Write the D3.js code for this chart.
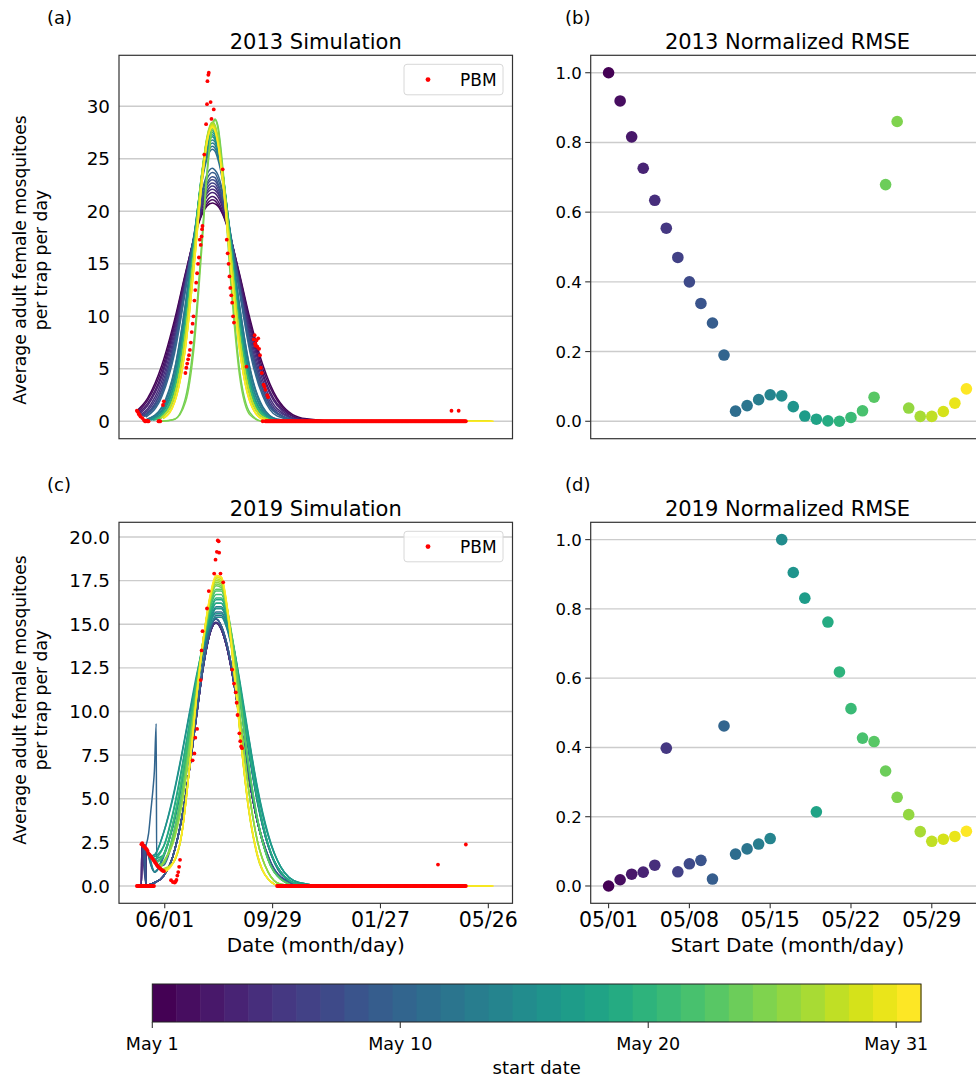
<!DOCTYPE html>
<html>
<head>
<meta charset="utf-8">
<script src="https://cdn.jsdelivr.net/npm/d3@7"></script>
<style>
  body { margin: 0; background: #fff; }
  text { font-family: "DejaVu Sans", sans-serif; fill: #000; }
</style>
</head>
<body>
<script>
/***** data *****/
// start dates: index 0 = May 1 ... 31 = Jun 1
var startIndex = d3.range(32);

var rmse2013 = [1.000, 0.919, 0.816, 0.726, 0.634, 0.554, 0.470, 0.400, 0.338, 0.282, 0.190, 0.029, 0.045, 0.062, 0.076, 0.073,
                0.042, 0.015, 0.006, 0.001, 0.000, 0.011, 0.030, 0.069, 0.679, 0.860, 0.038, 0.014, 0.014, 0.028, 0.052, 0.093];
var rmse2019 = [0.000, 0.018, 0.034, 0.040, 0.060, 0.398, 0.041, 0.064, 0.074, 0.020, 0.462, 0.092, 0.107, 0.121, 0.137, 1.000,
                0.905, 0.831, 0.214, 0.762, 0.618, 0.512, 0.427, 0.417, 0.332, 0.256, 0.206, 0.157, 0.129, 0.135, 0.143, 0.158];

// simulated curves, values read at these days after May 1
var sampleDays2013 = [12, 28, 42, 54, 64, 72, 78, 84, 87, 90, 96, 104, 114, 126, 140, 156, 184, 230];
var curves2013 = [
  [2.2, 5.4, 9.7, 14.1, 17.5, 19.6, 20.5, 20.8, 20.7, 20.5, 19.6, 17.5, 14.1, 9.7, 5.4, 2.2, 0.3, 0],
  [2.0, 5.0, 9.4, 14.0, 17.6, 19.7, 20.7, 21.1, 21.0, 20.7, 19.7, 17.6, 14.0, 9.4, 5.0, 2.0, 0.2, 0],
  [1.7, 4.6, 9.1, 13.8, 17.6, 19.9, 21.0, 21.4, 21.3, 21.0, 19.9, 17.6, 13.8, 9.1, 4.6, 1.7, 0.2, 0],
  [1.5, 4.3, 8.7, 13.6, 17.7, 20.2, 21.4, 21.8, 21.7, 21.4, 20.2, 17.7, 13.6, 8.7, 4.3, 1.5, 0.1, 0],
  [1.2, 3.9, 8.3, 13.4, 17.7, 20.4, 21.7, 22.1, 22.0, 21.7, 20.4, 17.7, 13.4, 8.3, 3.9, 1.2, 0.1, 0],
  [1.0, 3.5, 7.9, 13.1, 17.7, 20.6, 21.9, 22.4, 22.3, 21.9, 20.6, 17.7, 13.1, 7.9, 3.5, 1.0, 0.1, 0],
  [0.8, 3.1, 7.4, 12.8, 17.6, 20.7, 22.2, 22.7, 22.6, 22.2, 20.7, 17.6, 12.8, 7.4, 3.1, 0.8, 0.0, 0],
  [0.8, 3.1, 7.5, 12.9, 17.8, 21.0, 22.5, 23.0, 22.9, 22.5, 21.0, 17.8, 12.9, 7.5, 3.1, 0.8, 0.0, 0],
  [0.7, 2.7, 6.9, 12.6, 17.7, 21.1, 22.7, 23.3, 23.2, 22.7, 21.1, 17.7, 12.6, 6.9, 2.7, 0.7, 0, 0],
  [0.7, 2.7, 7.1, 12.8, 18.0, 21.5, 23.1, 23.7, 23.6, 23.1, 21.5, 18.0, 12.8, 7.1, 2.7, 0.7, 0, 0],
  [0.5, 2.4, 6.5, 12.4, 17.9, 21.7, 23.5, 24.1, 23.9, 23.5, 21.7, 17.9, 12.4, 6.5, 2.4, 0.5, 0, 0],
  [0.2, 1.3, 4.9, 11.1, 17.7, 22.6, 25.0, 25.9, 25.7, 25.0, 22.6, 17.7, 11.1, 4.9, 1.3, 0.2, 0, 0],
  [0.2, 1.4, 5.0, 11.2, 17.9, 22.9, 25.3, 26.2, 26.0, 25.3, 22.9, 17.9, 11.2, 5.0, 1.4, 0.2, 0, 0],
  [0.1, 1.0, 4.3, 10.4, 17.5, 22.8, 25.5, 26.5, 26.3, 25.5, 22.8, 17.5, 10.4, 4.3, 1.0, 0.1, 0, 0],
  [0.1, 1.1, 4.3, 10.6, 17.7, 23.1, 25.8, 26.8, 26.6, 25.8, 23.1, 17.7, 10.6, 4.3, 1.1, 0.1, 0, 0],
  [0.1, 0.8, 3.7, 9.8, 17.2, 23.0, 26.0, 27.1, 26.8, 26.0, 23.0, 17.2, 9.8, 3.7, 0.8, 0.1, 0, 0],
  [0.1, 0.8, 3.7, 9.8, 17.3, 23.2, 26.2, 27.3, 27.0, 26.2, 23.2, 17.3, 9.8, 3.7, 0.8, 0.1, 0, 0],
  [0.1, 0.8, 3.7, 9.9, 17.5, 23.4, 26.4, 27.5, 27.2, 26.4, 23.4, 17.5, 9.9, 3.7, 0.8, 0.1, 0, 0],
  [0.0, 0.6, 3.0, 9.0, 16.8, 23.1, 26.5, 27.7, 27.4, 26.5, 23.1, 16.8, 9.0, 3.0, 0.6, 0.0, 0, 0],
  [0.0, 0.6, 3.1, 9.1, 16.9, 23.3, 26.7, 27.9, 27.6, 26.7, 23.3, 16.9, 9.1, 3.1, 0.6, 0.0, 0, 0],
  [0.0, 0.6, 3.1, 9.1, 17.0, 23.4, 26.8, 28.0, 27.7, 26.8, 23.4, 17.0, 9.1, 3.1, 0.6, 0.0, 0, 0],
  [0.0, 0.6, 3.1, 9.1, 17.1, 23.5, 26.9, 28.1, 27.8, 26.9, 23.5, 17.1, 9.1, 3.1, 0.6, 0.0, 0, 0],
  [0.0, 0.4, 2.4, 8.1, 16.2, 23.1, 26.8, 28.2, 27.9, 26.8, 23.1, 16.2, 8.1, 2.4, 0.4, 0.0, 0, 0],
  [0.0, 0.4, 2.5, 8.1, 16.3, 23.2, 26.9, 28.3, 28.0, 26.9, 23.2, 16.3, 8.1, 2.5, 0.4, 0.0, 0, 0],
  [0, 0, 0.2, 2.2, 8.2, 16.9, 23.8, 28.2, 28.8, 28.2, 23.8, 14.5, 5.1, 0.8, 0.0, 0, 0, 0],
  [0, 0, 0.2, 1.8, 7.4, 16.2, 23.3, 28.0, 28.7, 28.0, 23.3, 13.7, 4.5, 0.6, 0.0, 0, 0, 0],
  [0.0, 0.4, 2.5, 8.2, 16.4, 23.3, 27.1, 28.5, 28.2, 27.1, 23.3, 16.4, 8.2, 2.5, 0.4, 0.0, 0, 0],
  [0.0, 0.4, 2.5, 8.2, 16.3, 23.3, 27.0, 28.4, 28.1, 27.0, 23.3, 16.3, 8.2, 2.5, 0.4, 0.0, 0, 0],
  [0.0, 0.4, 2.5, 8.1, 16.3, 23.2, 26.9, 28.3, 28.0, 26.9, 23.2, 16.3, 8.1, 2.5, 0.4, 0.0, 0, 0],
  [0.0, 0.2, 1.9, 7.0, 15.2, 22.6, 26.7, 28.2, 27.8, 26.7, 22.6, 15.2, 7.0, 1.9, 0.2, 0.0, 0, 0],
  [0.0, 0.2, 1.8, 7.0, 15.1, 22.5, 26.6, 28.1, 27.7, 26.6, 22.5, 15.1, 7.0, 1.8, 0.2, 0.0, 0, 0],
  [0.0, 0.2, 1.8, 7.0, 15.1, 22.4, 26.5, 28.0, 27.6, 26.5, 22.4, 15.1, 7.0, 1.8, 0.2, 0.0, 0, 0]
];
var startValues2013 = [1.0, 0.9, 0.8, 0.7, 0.6, 0.55, 0.5, 0.5, 0.45, 0.5, 0.4, 0.2, 0.2, 0.15, 0.2, 0.1,
                       0.15, 0.15, 0.1, 0.15, 0.15, 0.2, 0.15, 0.15, 0.0, 0.0, 0.25, 0.3, 0.35, 0.25, 0.3, 0.35];

var sampleDays2019 = [20, 30, 40, 50, 58, 66, 74, 82, 88, 94, 100, 108, 116, 124, 134, 146, 160, 180, 210, 260];
var curves2019 = [
  [0.2, 0.6, 1.7, 3.9, 6.5, 9.6, 12.6, 14.6, 15.1, 14.7, 13.7, 11.6, 9.0, 6.4, 3.7, 1.6, 0.5, 0.1, 0, 0],
  [0.2, 0.6, 1.7, 3.9, 6.5, 9.6, 12.6, 14.6, 15.1, 14.7, 13.7, 11.6, 9.0, 6.4, 3.7, 1.6, 0.5, 0.1, 0, 0],
  [0.2, 0.6, 1.7, 3.9, 6.5, 9.6, 12.6, 14.6, 15.1, 14.7, 13.7, 11.6, 9.0, 6.4, 3.7, 1.6, 0.5, 0.1, 0, 0],
  [0.2, 0.6, 1.7, 3.9, 6.5, 9.6, 12.6, 14.6, 15.1, 14.7, 13.7, 11.6, 9.0, 6.4, 3.7, 1.6, 0.5, 0.1, 0, 0],
  [0.2, 0.6, 1.7, 3.9, 6.5, 9.6, 12.6, 14.6, 15.1, 14.7, 13.7, 11.6, 9.0, 6.4, 3.7, 1.6, 0.5, 0.1, 0, 0],
  [0.2, 0.6, 1.7, 3.9, 6.5, 9.6, 12.6, 14.6, 15.1, 14.7, 13.7, 11.6, 9.0, 6.4, 3.7, 1.6, 0.5, 0.1, 0, 0],
  [0.2, 0.6, 1.7, 3.9, 6.5, 9.7, 12.7, 14.8, 15.3, 14.9, 13.9, 11.8, 9.1, 6.5, 3.8, 1.7, 0.5, 0.1, 0, 0],
  [0.2, 0.6, 1.7, 3.9, 6.5, 9.7, 12.7, 14.8, 15.3, 14.9, 13.9, 11.8, 9.1, 6.5, 3.8, 1.7, 0.5, 0.1, 0, 0],
  [0.2, 0.6, 1.7, 3.9, 6.5, 9.7, 12.7, 14.8, 15.3, 14.9, 13.9, 11.8, 9.1, 6.5, 3.8, 1.7, 0.5, 0.1, 0, 0],
  [0.2, 0.6, 1.7, 3.9, 6.5, 9.7, 12.7, 14.8, 15.3, 14.9, 13.9, 11.8, 9.1, 6.5, 3.8, 1.7, 0.5, 0.1, 0, 0],
  [0.5, 1.2, 2.6, 4.9, 7.4, 10.2, 12.8, 14.8, 15.5, 15.5, 14.8, 13.0, 10.5, 7.8, 4.8, 2.3, 0.7, 0.1, 0, 0],
  [0.8, 1.7, 3.4, 5.8, 8.3, 10.9, 13.3, 15.1, 15.7, 15.7, 15.0, 13.1, 10.6, 7.9, 4.9, 2.3, 0.8, 0.1, 0, 0],
  [0.8, 1.8, 3.4, 5.9, 8.4, 11.0, 13.5, 15.2, 15.9, 15.9, 15.2, 13.3, 10.7, 8.0, 4.9, 2.3, 0.8, 0.1, 0, 0],
  [0.8, 1.8, 3.4, 5.9, 8.4, 11.1, 13.6, 15.3, 16.0, 16.0, 15.3, 13.4, 10.8, 8.0, 4.9, 2.3, 0.8, 0.1, 0, 0],
  [0.8, 1.8, 3.5, 6.0, 8.5, 11.2, 13.7, 15.5, 16.2, 16.2, 15.5, 13.6, 10.9, 8.1, 5.0, 2.4, 0.8, 0.1, 0, 0],
  [1.8, 3.1, 5.0, 7.5, 9.7, 11.8, 13.7, 15.0, 15.4, 15.4, 14.8, 13.2, 11.0, 8.5, 5.5, 2.9, 1.1, 0.2, 0, 0],
  [1.8, 3.1, 5.1, 7.6, 9.8, 12.0, 13.8, 15.2, 15.6, 15.6, 15.0, 13.4, 11.1, 8.6, 5.6, 2.9, 1.1, 0.2, 0, 0],
  [1.2, 2.3, 4.1, 6.7, 9.1, 11.6, 13.8, 15.3, 15.9, 15.9, 15.3, 13.6, 11.3, 8.7, 5.7, 3.0, 1.1, 0.2, 0, 0],
  [0.8, 1.8, 3.5, 6.1, 8.6, 11.4, 13.9, 15.7, 16.4, 16.4, 15.7, 13.7, 11.1, 8.2, 5.1, 2.4, 0.8, 0.1, 0, 0],
  [1.2, 2.3, 4.2, 6.8, 9.2, 11.8, 14.0, 15.6, 16.2, 16.2, 15.5, 13.6, 10.9, 8.1, 5.0, 2.4, 0.8, 0.1, 0, 0],
  [0.8, 1.8, 3.5, 6.1, 8.7, 11.5, 14.0, 15.8, 16.5, 16.5, 15.6, 13.2, 10.1, 6.9, 3.8, 1.5, 0.4, 0.0, 0, 0],
  [0.8, 1.8, 3.6, 6.2, 8.8, 11.6, 14.1, 16.0, 16.7, 16.7, 15.7, 13.3, 10.2, 7.0, 3.8, 1.5, 0.4, 0.0, 0, 0],
  [0.5, 1.3, 2.9, 5.4, 8.1, 11.1, 13.9, 16.1, 16.9, 16.9, 15.9, 13.5, 10.3, 7.1, 3.9, 1.5, 0.4, 0.0, 0, 0],
  [0.5, 1.3, 2.9, 5.4, 8.1, 11.1, 14.0, 16.2, 17.0, 17.0, 16.0, 13.6, 10.4, 7.1, 3.9, 1.5, 0.4, 0.0, 0, 0],
  [0.5, 1.4, 2.6, 4.9, 7.8, 11.1, 14.2, 16.4, 17.2, 17.1, 15.9, 12.8, 9.1, 5.6, 2.6, 0.8, 0.1, 0.0, 0, 0],
  [0.5, 1.4, 2.5, 4.8, 7.7, 11.0, 14.2, 16.5, 17.3, 17.2, 16.0, 12.9, 9.1, 5.7, 2.6, 0.8, 0.1, 0.0, 0, 0],
  [0.6, 1.4, 2.4, 4.6, 7.5, 10.9, 14.2, 16.6, 17.4, 17.3, 16.1, 13.0, 9.2, 5.7, 2.6, 0.8, 0.1, 0.0, 0, 0],
  [0.3, 0.9, 1.3, 3.0, 6.5, 10.6, 14.0, 16.5, 17.5, 17.4, 15.9, 12.3, 8.1, 4.5, 1.7, 0.4, 0.0, 0, 0, 0],
  [0.3, 0.9, 1.3, 3.0, 6.5, 10.6, 14.1, 16.6, 17.6, 17.5, 16.0, 12.3, 8.1, 4.5, 1.8, 0.4, 0.0, 0, 0, 0],
  [0.3, 0.9, 1.3, 3.0, 6.5, 10.7, 14.1, 16.7, 17.7, 17.6, 16.1, 12.4, 8.2, 4.6, 1.8, 0.4, 0.0, 0, 0, 0],
  [0.3, 0.9, 1.3, 3.0, 6.5, 10.7, 14.2, 16.7, 17.7, 17.7, 16.1, 12.4, 8.2, 4.6, 1.8, 0.4, 0.0, 0, 0, 0],
  [0.3, 0.9, 1.3, 3.0, 6.5, 10.6, 14.2, 16.8, 17.8, 17.7, 16.2, 12.5, 8.2, 4.6, 1.8, 0.4, 0.0, 0, 0, 0]
];
var startValues2019 = [0, 0, 0, 0, 0, 2.45, 2.4, 2.3, 2.3, 2.25, 2.3, 2.1, 2.0, 1.85, 1.8, 1.72,
                       1.68, 1.6, 1.52, 1.45, 1.38, 1.3, 1.22, 1.15, 1.1, 1.05, 1.0, 0.95, 0.9, 0.88, 0.85, 0.8];
// odd first days of some 2019 runs [day, value]
var earlyPath2019 = {
  0: [[0, 0], [5, 0], [5.6, 2.4], [9.6, 2.3], [10.2, 0.05]],
  1: [[1, 0], [5, 0], [5.6, 2.4], [9.6, 2.3], [10.2, 0.05]],
  2: [[2, 0], [5, 0], [5.6, 2.4], [9.6, 2.3], [10.2, 0.05]],
  3: [[3, 0], [5, 0], [5.6, 2.4], [9.6, 2.3], [10.2, 0.05]],
  4: [[4, 0], [5, 0], [5.6, 2.4], [9.6, 2.3], [10.2, 0.05]],
  5: [[5, 2.45], [9.6, 2.3], [10.2, 0.05]],
  6: [[6, 2.4], [10.2, 0.05]],
  7: [[7, 2.3], [10.3, 0.05]],
  8: [[8, 2.3], [10.4, 0.05]],
  9: [[9, 2.25], [10.6, 0.05]],
  10: [[10, 2.3], [13, 3.0], [15.5, 4.3], [18, 5.6], [19.5, 6.6], [21.5, 9.3], [22, 1.1]]
};
var runLength = 366;

// PBM [day after May 1, value]
var pbm2013 = [[0,1.0],[1,0.9],[2,0.7],[3,0.6],[4,0.45],[6,0.3],[8,0.1],[9,0],[10,0],[11,0.05],[12,0],[13,0],
  [24,0],[25,0],[26,0],[29,1.55],[30,1.9],
  [54,4.6],[55,5.1],[56,5.5],[57,5.9],[58,6.3],[59,6.8],[60,7.5],[61,8.5],[62,9.3],[63,10.0],[64,11.5],[65,12.5],
  [66,13.2],[67,14.1],[68,15.0],[69,15.6],[70,17.3],[71,16.8],[72,17.6],[72.5,18.3],[73,18.6],[75,25.4],[77,28.3],
  [78,30.2],[78.5,32.4],[79.5,33.0],[80,33.2],[82,30.4],[83,28.8],[85.5,29.7],[95.5,24.0],
  [100,17.3],[101,16.0],[102,15.0],[103,13.8],[104,12.7],[105,12.0],[106,11.3],[107,10.0],[108,9.4],[122,5.2],
  [130,7.8],[131,8.2],[131.5,7.4],[132,7.2],[133,7.7],[134,7.1],[135,7.9],[136,6.9],[137,6.3],[138,5.1],[139,4.6],
  [140,0],[141,3.5],[142,3.3],[143,3.0],[145,2.5],[146,2.3],[350,1.0],[358,1.0]];
var pbmZeroRuns2013 = [[143, 366]];

var pbm2019 = [[5,2.4],[6,2.45],[7,2.3],[8,2.3],[9,2.2],[10,2.15],[11,2.1],[12,2.0],[13,1.85],[14,1.8],[15,1.72],
  [16,1.68],[17,1.6],[18,1.52],[19,1.45],[20,1.38],[21,1.3],[22,1.22],[23,1.15],[24,1.1],[25,1.05],[26,1.0],
  [27,0.95],[28,0.9],[29,0.88],[30,0.85],
  [38,0.33],[40,0.23],[42,0.2],[43,0.25],[44,0.35],[45,0.6],[46,0.8],[47,1.1],[48,1.5],
  [62,7.2],[64,7.6],[65,8.5],[67,9.0],[71,11.8],[72,13.5],[73,14.6],[78,15.9],[80,16.9],[86,17.9],[87.5,18.7],
  [89,19.15],[90,19.8],[91,19.75],[91.5,19.1],[93,17.9],[96,17.4],
  [106,12.4],[108,11.6],[110,11.1],[111,10.5],[112,9.8],[114,8.75],[115,8.3],[116,8.0],[117,7.9],
  [335,1.23],[366,2.38]];
var pbmZeroRuns2019 = [[0, 19], [156, 366]];

// ticks
var simTicks2013 = [0, 5, 10, 15, 20, 25, 30];
var simTicks2019 = [0, 2.5, 5, 7.5, 10, 12.5, 15, 17.5, 20];
var rmseTicks = [0, 0.2, 0.4, 0.6, 0.8, 1.0];
var dateTicks2019 = ["2019-06-01", "2019-09-29", "2020-01-27", "2020-05-26"];
var startTicks = ["2019-05-01", "2019-05-08", "2019-05-15", "2019-05-22", "2019-05-29"];
var cbarTicks = [0, 10, 20, 30];
var cbarLabels = ["May 1", "May 10", "May 20", "May 31"];

/***** setup *****/
var width = 976, height = 1078, DAY = 864e5;
var base2013 = Date.UTC(2013, 4, 1), base2019 = Date.UTC(2019, 4, 1);
function toDate(base, d) { return new Date(base + d * DAY); }
function color(i) { return d3.interpolateViridis(i / 31); }

var svg = d3.select("body").append("svg")
    .attr("width", width)
    .attr("height", height);

var boxA = {l: 119, r: 512.5, t: 55.3, b: 438.7},
    boxB = {l: 590.7, r: 984.3, t: 55.3, b: 438.7},
    boxC = {l: 119, r: 512.5, t: 522.3, b: 903.3},
    boxD = {l: 590.7, r: 984.3, t: 522.3, b: 903.3};

function grid(g, box, y, ticks) {
  g.selectAll("line.grid").data(ticks).enter().append("line")
      .attr("class", "grid")
      .attr("x1", box.l).attr("x2", box.r)
      .attr("y1", function(d) { return y(d); }).attr("y2", function(d) { return y(d); })
      .style("stroke", "#cccccc").style("stroke-width", 1.4);
}

function frame(g, box) {
  g.append("rect")
      .attr("x", box.l).attr("y", box.t)
      .attr("width", box.r - box.l).attr("height", box.b - box.t)
      .style("fill", "none").style("stroke", "#333").style("stroke-width", 1.2);
}

function yLabels(g, box, y, ticks, fmt, size, tickLen) {
  var t = g.selectAll("g.ytick").data(ticks).enter().append("g").attr("class", "ytick");
  if (tickLen) {
    t.append("line")
        .attr("x1", box.l - tickLen).attr("x2", box.l)
        .attr("y1", function(d) { return y(d); }).attr("y2", function(d) { return y(d); })
        .style("stroke", "#333").style("stroke-width", 1.1);
  }
  t.append("text")
      .attr("x", box.l - 9)
      .attr("y", function(d) { return y(d); })
      .attr("dy", "0.36em")
      .attr("text-anchor", "end")
      .style("font-size", size + "px")
      .text(fmt);
}

function xLabels(g, box, x, ticks) {
  var t = g.selectAll("g.xtick").data(ticks).enter().append("g").attr("class", "xtick");
  t.append("line")
      .attr("x1", function(d) { return x(new Date(d)); }).attr("x2", function(d) { return x(new Date(d)); })
      .attr("y1", box.b).attr("y2", box.b + 5)
      .style("stroke", "#333").style("stroke-width", 1.1);
  t.append("text")
      .attr("x", function(d) { return x(new Date(d)); })
      .attr("y", box.b + 24)
      .attr("text-anchor", "middle")
      .style("font-size", "20.5px")
      .text(function(d) { return d3.utcFormat("%m/%d")(new Date(d)); });
}

function header(box, tag, title, tagX) {
  svg.append("text").attr("x", tagX).attr("y", box.t - 31)
      .style("font-size", "18px").text(tag);
  svg.append("text").attr("x", (box.l + box.r) / 2).attr("y", box.t - 6)
      .attr("text-anchor", "middle").style("font-size", "21px").text(title);
}

/***** simulation panels *****/
function simPanel(box, base, yDomain, ticks, fmt, curves, days, starts, early, pbm, zeroRuns, tag, title, yMid) {
  var x = d3.scaleUtc()
      .domain([toDate(base, -19.9), toDate(base, 417.9)])
      .range([box.l, box.r]);
  var y = d3.scaleLinear().domain(yDomain).range([box.b, box.t]);
  var g = svg.append("g");

  grid(g, box, y, ticks);

  var line = d3.line()
      .x(function(p) { return x(toDate(base, p[0])); })
      .y(function(p) { return y(p[1]); })
      .curve(d3.curveMonotoneX);

  startIndex.forEach(function(i) {
    var pts = early && early[i] ? early[i].slice() : [[i, starts[i]]];
    var last = pts[pts.length - 1][0];
    days.forEach(function(d, k) { if (d > last + 3) pts.push([d, curves[i][k]]); });
    pts.push([i + runLength, 0]);
    g.append("path")
        .datum(pts)
        .attr("d", line)
        .style("fill", "none")
        .style("stroke", color(i))
        .style("stroke-width", 1.5);
  });

  var dots = pbm.slice();
  zeroRuns.forEach(function(r) {
    d3.range(r[0], r[1] + 1).forEach(function(d) { dots.push([d, 0]); });
  });
  g.selectAll("circle.pbm").data(dots).enter().append("circle")
      .attr("class", "pbm")
      .attr("cx", function(p) { return x(toDate(base, p[0])); })
      .attr("cy", function(p) { return y(p[1]); })
      .attr("r", 1.9)
      .style("fill", "red");

  frame(g, box);
  yLabels(g, box, y, ticks, fmt, 18.3, 0);

  // legend
  var lg = g.append("g").attr("transform", "translate(404," + (box.t + 9) + ")");
  lg.append("rect").attr("width", 99).attr("height", 30.5).attr("rx", 3)
      .style("fill", "#fff").style("fill-opacity", 0.8)
      .style("stroke", "#d8d8d8").style("stroke-width", 1);
  lg.append("circle").attr("cx", 24).attr("cy", 15.3).attr("r", 2.4).style("fill", "red");
  lg.append("text").attr("x", 56).attr("y", 15.3).attr("dy", "0.36em")
      .style("font-size", "17px").text("PBM");

  header(box, tag, title, 47);

  // y label, two lines
  svg.append("text")
      .attr("transform", "translate(25.5," + yMid + ") rotate(-90)")
      .attr("text-anchor", "middle")
      .style("font-size", "17.2px")
      .text("Average adult female mosquitoes");
  svg.append("text")
      .attr("transform", "translate(46.5," + yMid + ") rotate(-90)")
      .attr("text-anchor", "middle")
      .style("font-size", "17.2px")
      .text("per trap per day");
  return {x: x, g: g};
}

/***** RMSE panels *****/
function rmsePanel(box, base, values, tag, title) {
  var x = d3.scaleUtc()
      .domain([toDate(base, -1.55), toDate(base, 32.55)])
      .range([box.l, box.r]);
  var y = d3.scaleLinear().domain([-0.05, 1.05]).range([box.b, box.t]);
  var g = svg.append("g");

  grid(g, box, y, rmseTicks);

  g.selectAll("circle.pt").data(startIndex).enter().append("circle")
      .attr("class", "pt")
      .attr("cx", function(i) { return x(toDate(base, i)); })
      .attr("cy", function(i) { return y(values[i]); })
      .attr("r", 5.8)
      .style("fill", function(i) { return color(i); });

  frame(g, box);
  yLabels(g, box, y, rmseTicks, d3.format(".1f"), 16.5, 5.5);
  header(box, tag, title, 565);
  return {x: x, g: g};
}

simPanel(boxA, base2013, [-1.66, 34.86], simTicks2013, d3.format("d"), curves2013, sampleDays2013,
         startValues2013, null, pbm2013, pbmZeroRuns2013, "(a)", "2013 Simulation", 260);
rmsePanel(boxB, base2013, rmse2013, "(b)", "2013 Normalized RMSE");

var c = simPanel(boxC, base2019, [-0.99, 20.84], simTicks2019, d3.format(".1f"), curves2019, sampleDays2019,
         startValues2019, earlyPath2019, pbm2019, pbmZeroRuns2019, "(c)", "2019 Simulation", 700);
xLabels(c.g, boxC, c.x, dateTicks2019);
svg.append("text").attr("x", (boxC.l + boxC.r) / 2).attr("y", 952)
    .attr("text-anchor", "middle").style("font-size", "20px").text("Date (month/day)");

var d = rmsePanel(boxD, base2019, rmse2019, "(d)", "2019 Normalized RMSE");
xLabels(d.g, boxD, d.x, startTicks);
svg.append("text").attr("x", (boxD.l + boxD.r) / 2).attr("y", 952)
    .attr("text-anchor", "middle").style("font-size", "20px").text("Start Date (month/day)");

/***** colorbar *****/
var cb = {l: 152.3, r: 921, t: 984, b: 1022};
var cbBand = d3.scaleBand().domain(startIndex).range([cb.l, cb.r]);
var cbScale = d3.scaleLinear().domain([0, 31]).range([cb.l, cb.r]);
var cg = svg.append("g");
cg.selectAll("rect.cb").data(startIndex).enter().append("rect")
    .attr("class", "cb")
    .attr("x", function(i) { return cbBand(i); })
    .attr("y", cb.t)
    .attr("width", cbBand.bandwidth() + 0.5)
    .attr("height", cb.b - cb.t)
    .style("fill", function(i) { return color(i); });
cg.append("rect")
    .attr("x", cb.l).attr("y", cb.t).attr("width", cb.r - cb.l).attr("height", cb.b - cb.t)
    .style("fill", "none").style("stroke", "#222").style("stroke-width", 1);
cg.selectAll("line.cbt").data(cbarTicks).enter().append("line")
    .attr("class", "cbt")
    .attr("x1", function(v) { return cbScale(v); }).attr("x2", function(v) { return cbScale(v); })
    .attr("y1", cb.b).attr("y2", cb.b + 6)
    .style("stroke", "#333").style("stroke-width", 1.1);
cg.selectAll("text.cbl").data(cbarTicks).enter().append("text")
    .attr("class", "cbl")
    .attr("x", function(v) { return cbScale(v); })
    .attr("y", 1049.5)
    .attr("text-anchor", "middle")
    .style("font-size", "17.5px")
    .text(function(v, k) { return cbarLabels[k]; });
cg.append("text")
    .attr("x", (cb.l + cb.r) / 2).attr("y", 1074)
    .attr("text-anchor", "middle").style("font-size", "18px")
    .text("start date");
</script>
</body>
</html>
